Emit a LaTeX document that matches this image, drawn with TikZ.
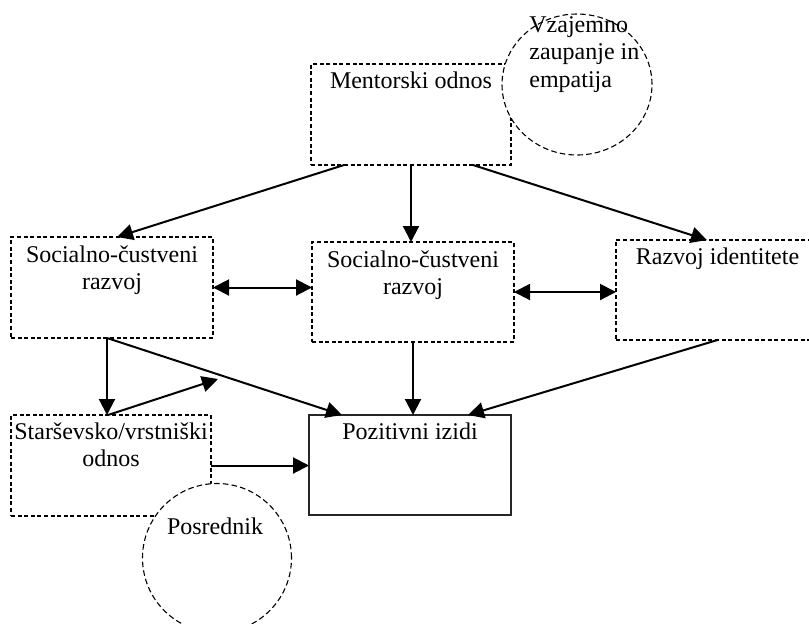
\documentclass[tikz,border=0pt]{standalone}
\usepackage{fontspec}
\setmainfont{Liberation Serif}
\usetikzlibrary{arrows.meta,shapes.geometric}
\newcommand\mystrut{\rule{0pt}{10pt}}
\begin{document}
\begin{tikzpicture}[x=0.5pt,y=-0.5pt,
  dbox/.style={draw, dash pattern=on 2pt off 1.3pt, line width=0.6pt, inner sep=0pt, outer sep=0pt},
  sbox/.style={draw=black!85, line width=0.7pt, inner sep=0pt, outer sep=0pt},
  dcirc/.style={draw, fill=white, dash pattern=on 2.8pt off 1.6pt, line width=0.55pt, inner sep=0pt, outer sep=0pt},
  lbl/.style={font=\fontsize{12}{13.75}\selectfont, inner sep=0pt, align=center, anchor=north},
  arr/.style={-{Triangle[length=8pt,width=8pt]}, line width=1pt},
  darr/.style={{Triangle[length=8pt,width=8pt]}-{Triangle[length=8pt,width=8pt]}, line width=1pt}]
\useasboundingbox (0,0) rectangle (809,623);

% boxes
\node[dbox, minimum width=100pt, minimum height=50.5pt] (mentor) at (411,114.5) {};
\node[dbox, minimum width=101pt, minimum height=50.5pt] (sel) at (112,287.5) {};
\node[dbox, minimum width=101pt, minimum height=50pt] (sem) at (413,292) {};
\node[dbox, minimum width=101.5pt, minimum height=50pt] (rid) at (717.5,290) {};
\node[dbox, minimum width=100pt, minimum height=50.5pt] (par) at (111,465.5) {};
\node[sbox, minimum width=101pt, minimum height=50pt] (poz) at (410,465) {};

% circles
\node[dcirc, ellipse, minimum width=75pt, minimum height=70.5pt] (trust) at (577,84.5) {};
\node[dcirc, circle, minimum size=74.5pt] (posr) at (217,558) {};

% texts
\node[lbl] (tmentor) at (411,68) {\mystrut Mentorski odnos};
\node[lbl, align=left, anchor=north west] (ttrust) at (529,12) {\mystrut Vzajemno\\zaupanje in\\empatija};
\node[lbl] (tsel) at (112,242) {\mystrut Socialno-čustveni\\razvoj};
\node[lbl] (tsem) at (413,247) {\mystrut Socialno-čustveni\\razvoj};
\node[lbl] (trid) at (717.5,244) {\mystrut Razvoj identitete};
\node[lbl] (tpar) at (111,419) {\mystrut Starševsko/vrstniški\\odnos};
\node[lbl] (tpoz) at (410,419) {\mystrut Pozitivni izidi};
\node[lbl] (tposr) at (215,514) {\mystrut Posrednik};

% connectors
\coordinate (mid) at (218,379);
\draw[arr] ([xshift=16.5pt]mentor.south west) -- ([xshift=53pt]sel.north west);
\draw[arr] (mentor.south) -- (mentor.south |- sem.north);
\draw[arr] ([xshift=81pt]mentor.south west) -- ([xshift=45.5pt]rid.north west);
\draw[darr] (sel.east) -- (sel.east -| sem.west);
\draw[darr] (sem.east) -- (sem.east -| rid.west);
\draw[arr] ([xshift=-2.5pt]sel.south) -- ([xshift=-2.5pt]sel.south |- par.north);
\draw[arr] ([xshift=-2.5pt]sel.south) -- ([xshift=16.5pt]poz.north west);
\draw[arr] ([xshift=-1.5pt]par.north) -- (mid);
\draw[arr] (sem.south) -- (sem.south |- poz.north);
\draw[arr] (rid.south) -- ([xshift=-21.5pt]poz.north east);
\draw[arr] (par.east) -- (par.east -| poz.west);
\end{tikzpicture}
\end{document}
